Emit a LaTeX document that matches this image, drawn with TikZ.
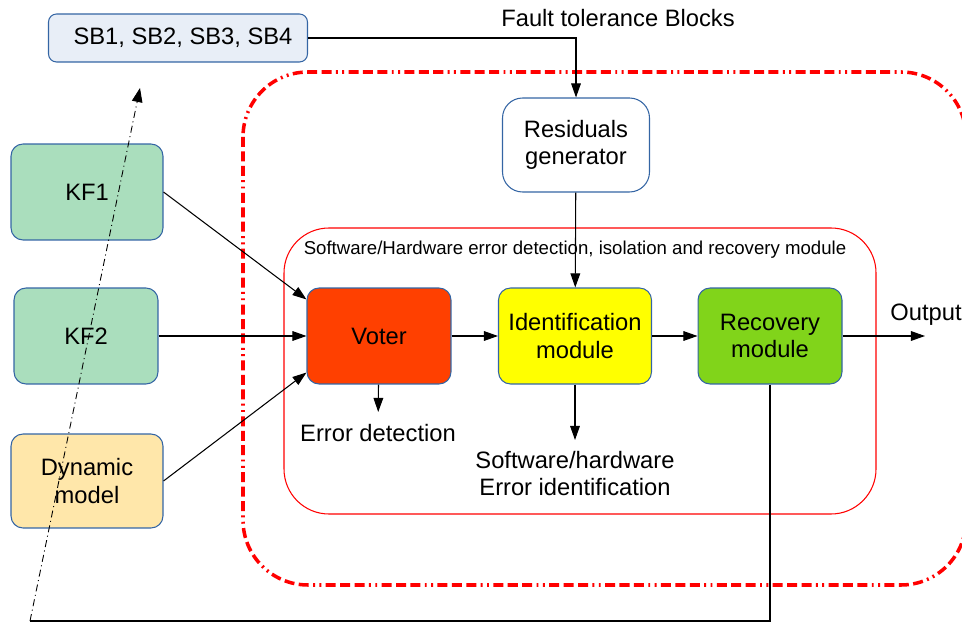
\documentclass[tikz,border=0pt]{standalone}
\usepackage{fontspec}
\setmainfont{Liberation Sans}
\usetikzlibrary{arrows.meta,positioning}

\definecolor{boxline}{HTML}{3465A4}
\definecolor{sbfill}{HTML}{E8EEF7}
\definecolor{kffill}{HTML}{AADEBD}
\definecolor{dynfill}{HTML}{FFE7AA}
\definecolor{voterfill}{HTML}{FF4000}
\definecolor{identfill}{HTML}{FFFF00}
\definecolor{recfill}{HTML}{81D41A}

\begin{document}
\begin{tikzpicture}[
    x=0.02cm, y=-0.02cm,
    font=\fontsize{13.5}{15.5}\selectfont,
    box/.style={draw=boxline, line width=0.6pt, rounded corners=0.24cm, align=center, inner sep=0pt, minimum width=2.88cm, minimum height=1.92cm},
    arrow/.style={-{Triangle[length=8pt,width=5.5pt]}, line width=0.6pt},
    feedback/.style={line width=1.6pt},
    dashdotarrow/.style={-{Triangle[length=8pt,width=6pt]}, line width=0.5pt, dash pattern=on 4pt off 2pt on 0.6pt off 2pt},
    redframe/.style={red, line width=2pt, dash pattern=on 5.7pt off 2.5pt on 5.7pt off 2.5pt on 5.7pt off 2.5pt on 1.1pt off 2.5pt on 1.1pt off 2.5pt, rounded corners=1.3cm}
]
\useasboundingbox (0,0) rectangle (962,624);

% frames
\draw[redframe] (243,72) rectangle (966,585);
\draw[red, line width=0.6pt, rounded corners=0.9cm] (284,228) rectangle (876,514);

% blocks
\node[box, fill=sbfill, rounded corners=0.16cm, minimum width=5.18cm, minimum height=0.96cm] (sb) at (178,38) {\hspace*{0.2cm}SB1, SB2, SB3, SB4};
\node[box, fill=white, rounded corners=0.4cm, minimum width=2.94cm, minimum height=1.88cm] (resid) at (576,145) {Residuals\\generator};
\node[box, fill=kffill, minimum width=3.04cm] (kf1) at (87,192) {KF1};
\node[box, fill=kffill] (kf2) at (86,336) {KF2};
\node[box, fill=dynfill, minimum width=3.04cm, minimum height=1.88cm] (dyn) at (87,481) {Dynamic\\model};
\node[box, fill=voterfill] (voter) at (379,336) {Voter};
\node[box, fill=identfill, minimum width=3.06cm] (ident) at (575,336) {Identification\\module};
\node[box, fill=recfill] (recovery) at (770,336) {Recovery\\module};

% labels
\node (ftb) at (618,18) {Fault tolerance Blocks};
\node[font=\fontsize{10.6}{12}\selectfont] (modlabel) at (575,250) {Software/Hardware error detection, isolation and recovery module};
\node[anchor=north, inner ysep=0.23cm] (errdet) at (378,412) {Error detection};
\node[anchor=north, align=center, inner ysep=0.22cm] (errid) at (575,440) {Software/hardware\\Error identification};
\node[anchor=base] (output) at (926,320) {Output};
\coordinate (outend) at (925,336);
\coordinate (fbcorner) at (30,621);
\coordinate (sbtip) at (140,88);

% connectors
\draw[arrow] (sb.east) -| (resid.north);
\draw[arrow] (resid) -- (ident);
\draw[arrow] (kf1.east) -- ([yshift=-0.24cm]voter.north west);
\draw[arrow] (kf2) -- (voter);
\draw[arrow] (dyn.east) -- ([yshift=0.24cm]voter.south west);
\draw[arrow] (voter) -- (errdet);
\draw[arrow] (voter) -- (ident);
\draw[arrow] (ident) -- (recovery);
\draw[arrow] (recovery) -- (outend);
\draw[arrow] (ident) -- (errid);
\draw[feedback] (recovery.south) |- (fbcorner);
\draw[dashdotarrow] (fbcorner) -- (sbtip);
\end{tikzpicture}
\end{document}
